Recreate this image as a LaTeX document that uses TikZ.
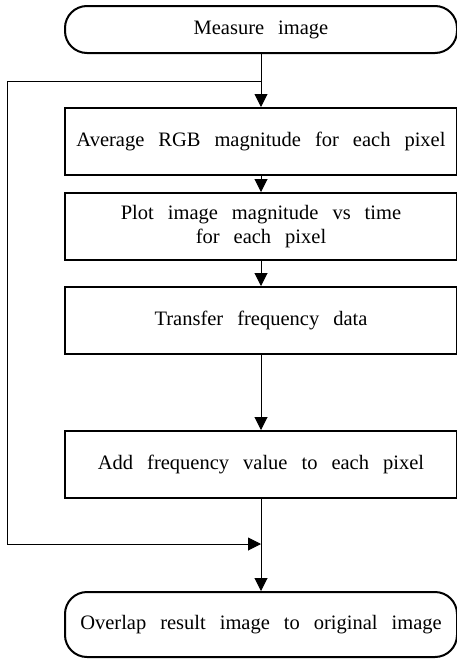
\documentclass[tikz,border=0pt]{standalone}
\usepackage{fontspec}
\setmainfont{Liberation Serif}
\usetikzlibrary{arrows.meta}
\newcommand{\boxfnt}{\fontsize{20.5}{24}\selectfont\spaceskip=14pt plus 2pt minus 2pt\relax}
\begin{document}
\begin{tikzpicture}[x=1pt,y=-1pt,
  procbox/.style={draw,line width=2pt,minimum width=392pt,minimum height=67pt,inner sep=0pt,align=center,font=\boxfnt},
  termbox/.style={draw,line width=2pt,rounded corners=22pt,minimum width=392pt,inner sep=0pt,align=center,font=\boxfnt},
  arr/.style={line width=1pt,-{Triangle[length=13pt,width=13pt]}}]
\useasboundingbox (0,0) rectangle (457,659);
\node[termbox,minimum height=47pt] (t1) at (261,29.5) {Measure image};
\node[procbox] (b1) at (261,141.5) {Average RGB magnitude for each pixel};
\node[procbox] (b2) at (261,226.5) {Plot image magnitude vs time\\for each pixel};
\node[procbox] (b3) at (261,320.5) {Transfer frequency data};
\node[procbox] (b4) at (261,464.5) {Add frequency value to each pixel};
\node[termbox,minimum height=65pt] (t2) at (261,624.5) {Overlap result image to original image};
\coordinate (j1) at (261,81);
\coordinate (j2) at (261,544);
\coordinate (c1) at (7.5,81);
\draw[arr] (t1.south) -- (b1.north);
\draw[arr] (b1.south) -- (b2.north);
\draw[arr] (b2.south) -- (b3.north);
\draw[arr] (b3.south) -- (b4.north);
\draw[arr] (b4.south) -- (t2.north);
\draw[arr] (j1) -- (c1) |- (j2);
\end{tikzpicture}
\end{document}
